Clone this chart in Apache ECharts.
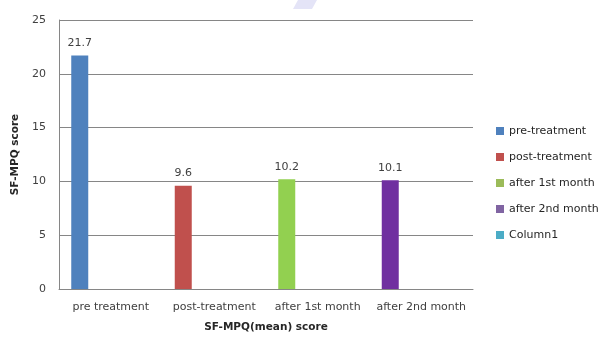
<!DOCTYPE html>
<html>
<head>
<meta charset="utf-8">
<script src="https://cdn.jsdelivr.net/npm/echarts@6/dist/echarts.min.js"></script>
<style>
  html, body { margin: 0; padding: 0; background: #fff; }
  #chart { width: 603px; height: 338px; }
</style>
</head>
<body>
<div id="chart"></div>
<script>
// Time points on the x axis
const categories = ['pre treatment', 'post-treatment', 'after 1st month', 'after 2nd month'];

// One series per time point; each holds a value only at its own category
const seriesNames = ['pre-treatment', 'post-treatment', 'after 1st month', 'after 2nd month', 'Column1'];
const preTreatment  = [21.7, null, null, null];
const postTreatment = [null, 9.6, null, null];
const after1stMonth = [null, null, 10.2, null];
const after2ndMonth = [null, null, null, 10.1];
const column1       = [null, null, null, null];

const yTicks = [0, 5, 10, 15, 20, 25];

const seriesData = [preTreatment, postTreatment, after1stMonth, after2ndMonth, column1];
const legendColors = ['#4F81BD', '#C0504D', '#9BBB59', '#8064A2', '#4BACC6'];
const barColors    = ['#4F81BD', '#C0504D', '#92D050', '#7030A0', '#4BACC6'];

const FONT = 'DejaVu Sans';

const series = seriesData.map((data, i) => ({
  name: seriesNames[i],
  type: 'bar',
  stack: 'score',
  barWidth: 17,
  barGap: '264.7%',
  itemStyle: { color: legendColors[i] },
  data: data.map(v => v === null ? null : { value: v, itemStyle: { color: barColors[i] } }),
  label: {
    show: true,
    position: 'top',
    distance: 7,
    fontFamily: FONT,
    fontSize: 11,
    color: '#404040',
    formatter: p => p.value == null ? '' : String(p.value)
  }
}));

// Empty companion stack that keeps the bars left of each category centre
series.push({
  name: 'spacer',
  type: 'bar',
  stack: 'spacer',
  barWidth: 17,
  barGap: '264.7%',
  silent: true,
  data: categories.map(() => null)
});

const chart = echarts.init(document.getElementById('chart'), null, { renderer: 'canvas' });
chart.setOption({
  animation: false,
  backgroundColor: '#ffffff',
  graphic: [{
    type: 'polygon',
    shape: { points: [[298, 0], [317, 0], [312, 9], [293, 9]] },
    style: { fill: '#e4e4f7' },
    silent: true
  }],
  grid: { left: 59, right: 130, top: 20, bottom: 46, containLabel: false },
  legend: {
    data: seriesNames,
    orient: 'vertical',
    left: 491,
    top: 119,
    icon: 'rect',
    itemWidth: 8,
    itemHeight: 8,
    itemGap: 12,
    textStyle: { fontFamily: FONT, fontSize: 11, color: '#262626', lineHeight: 14 }
  },
  xAxis: {
    type: 'category',
    data: categories,
    name: 'SF-MPQ(mean) score',
    nameLocation: 'middle',
    nameGap: 33,
    nameTextStyle: { fontFamily: FONT, fontSize: 10.5, fontWeight: 'bold', color: '#262626' },
    axisLine: { lineStyle: { color: '#868686', width: 1 } },
    axisTick: { show: false },
    axisLabel: { fontFamily: FONT, fontSize: 11, color: '#404040', margin: 13, interval: 0 }
  },
  yAxis: {
    type: 'value',
    min: yTicks[0],
    max: yTicks[yTicks.length - 1],
    interval: yTicks[1] - yTicks[0],
    name: 'SF-MPQ score',
    nameLocation: 'middle',
    nameGap: 30,
    nameTextStyle: { fontFamily: FONT, fontSize: 10.5, fontWeight: 'bold', color: '#262626' },
    axisLine: { show: true, lineStyle: { color: '#868686', width: 1 } },
    axisTick: { show: false },
    axisLabel: { fontFamily: FONT, fontSize: 11, color: '#404040', margin: 13 },
    splitLine: { lineStyle: { color: '#868686', width: 1 } }
  },
  series: series
});
</script>
</body>
</html>
